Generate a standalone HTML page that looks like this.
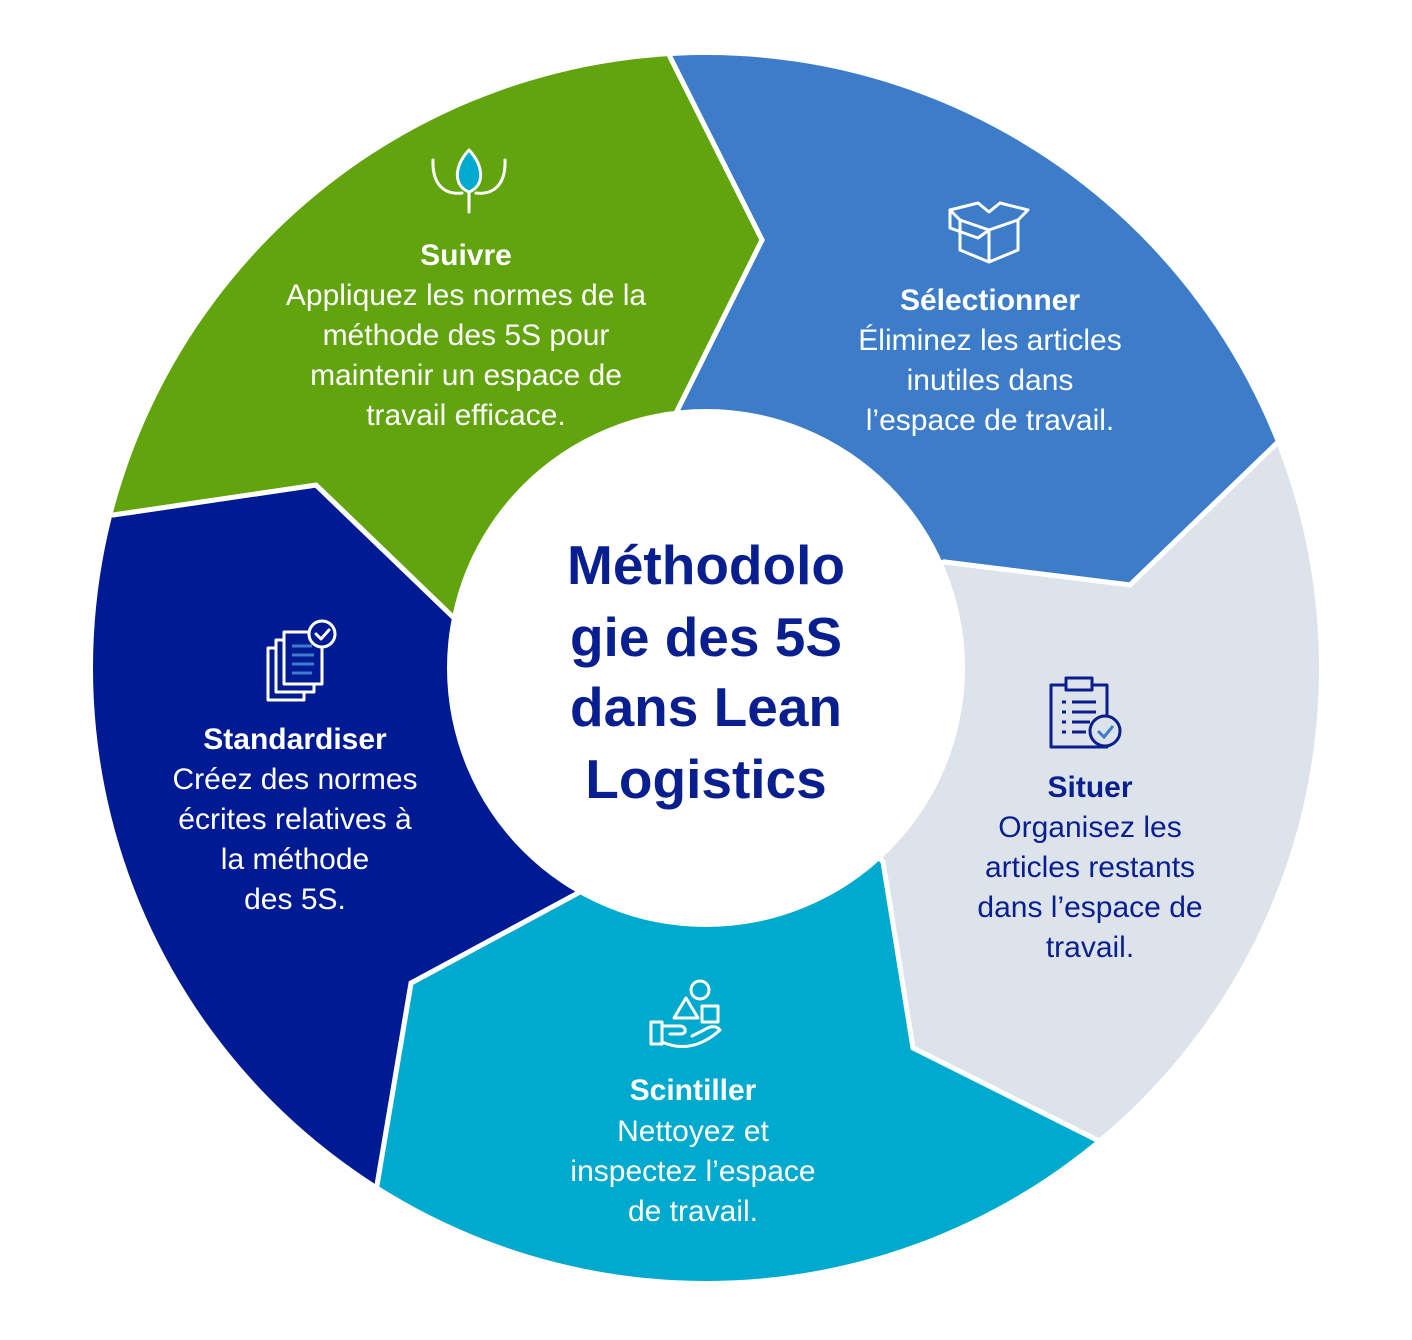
<!DOCTYPE html>
<html><head><meta charset="utf-8"><style>
html,body{margin:0;padding:0;background:#fff;width:1412px;height:1340px;overflow:hidden;}
svg{display:block;}
text{font-family:"Liberation Sans",sans-serif;}
</style></head><body>
<svg width="1412" height="1340" viewBox="0 0 1412 1340" xmlns="http://www.w3.org/2000/svg">
<defs><clipPath id="c"><circle cx="706" cy="668" r="613"/></clipPath></defs>
<g clip-path="url(#c)" stroke="#fff" stroke-width="5" stroke-linejoin="miter">
<polygon fill="#3d7cc9" points="706,668 676,413 762,240 670,57 647,-330 1251,-171 1636,302 1277,443 1130,585 944,562"/>
<polygon fill="#dde3ea" points="706,668 944,562 1130,585 1277,443 1636,302 1674,918 1343,1438 1097,1140 913,1048 883,862"/>
<polygon fill="#00a9ce" points="706,668 883,862 913,1048 1097,1140 1343,1438 767,1666 169,1511 377,1185 411,983 578,893"/>
<polygon fill="#001a94" points="706,668 578,893 411,983 377,1185 169,1511 -224,1035 -262,418 113,515 316,485 453,617"/>
<polygon fill="#62a40e" points="706,668 453,617 316,485 113,515 -262,418 70,-104 647,-330 670,57 762,240 676,413"/>
</g>
<circle cx="706" cy="668" r="259" fill="#fff"/>
<g fill="#0a1f8f" font-weight="bold" font-size="55" text-anchor="middle">
<text x="706" y="584">Méthodolo</text>
<text x="706" y="656">gie des 5S</text>
<text x="706" y="726">dans Lean</text>
<text x="706" y="798">Logistics</text>
</g>
<g fill="#fff" font-size="30" text-anchor="middle">
<text x="466" y="265" font-weight="bold">Suivre</text>
<text x="466" y="305">Appliquez les normes de la</text>
<text x="466" y="345">méthode des 5S pour</text>
<text x="466" y="385">maintenir un espace de</text>
<text x="466" y="425">travail efficace.</text>
<text x="990" y="310" font-weight="bold">Sélectionner</text>
<text x="990" y="350">Éliminez les articles</text>
<text x="990" y="390">inutiles dans</text>
<text x="990" y="430">l’espace de travail.</text>
<text x="693" y="1100" font-weight="bold">Scintiller</text>
<text x="693" y="1141">Nettoyez et</text>
<text x="693" y="1181">inspectez l’espace</text>
<text x="693" y="1221">de travail.</text>
<text x="295" y="749" font-weight="bold">Standardiser</text>
<text x="295" y="789">Créez des normes</text>
<text x="295" y="829">écrites relatives à</text>
<text x="295" y="869">la méthode</text>
<text x="295" y="909">des 5S.</text>
</g>
<g fill="#0a1f8f" font-size="30" text-anchor="middle">
<text x="1090" y="797" font-weight="bold">Situer</text>
<text x="1090" y="837">Organisez les</text>
<text x="1090" y="877">articles restants</text>
<text x="1090" y="917">dans l’espace de</text>
<text x="1090" y="957">travail.</text>
</g>
<g fill="none" stroke="#fff" stroke-width="3" stroke-linejoin="round" stroke-linecap="round">
<path d="M469 212 V190"/>
<path d="M469 150 C455 165 452 185 469 192 C486 185 483 165 469 150Z" fill="#00a9ce"/>
<path d="M433 160 C432 185 445 195 462 193"/>
<path d="M505 160 C506 185 493 195 476 193"/>
<path d="M960 220 L989 230 L1018 220 M960 220 V250 L989 262 L1018 250 V220"/>
<path d="M989 230 V262"/>
<path d="M960 220 L950 210 L978 203 L989 212 L1000 203 L1028 210 L1018 220"/>
<path d="M950 210 L950 228 L978 238 L989 230"/>
<circle cx="700" cy="990" r="9"/>
<path d="M686 998 L698 1018 H674 Z"/>
<rect x="702" y="1006" width="16" height="16"/>
<rect x="651" y="1022" width="11" height="22"/>
<path d="M662 1026 H680 C686 1026 688 1034 680 1034 H670 M662 1042 C680 1050 700 1048 720 1030 C716 1025 710 1026 704 1030 L692 1036"/>
<rect x="268" y="648" width="36" height="52"/>
<rect x="276" y="640" width="38" height="52" fill="#001a94"/>
<rect x="284" y="632" width="38" height="52" fill="#001a94"/>
<circle cx="322" cy="634" r="13" fill="#001a94"/>
<path d="M316 634 L321 639 L329 630"/>
</g>
<g stroke="#3d7cc9" stroke-width="3"><path d="M292 646 H312 M292 655 H314 M292 664 H314 M292 673 H312"/></g>
<g fill="none" stroke="#0a1f8f" stroke-width="3" stroke-linejoin="round">
<rect x="1051" y="685" width="56" height="62"/>
<rect x="1066" y="678" width="26" height="12" fill="#dde3ea"/>
<path d="M1062 702 H1066 M1072 702 H1096 M1062 712 H1066 M1072 712 H1096 M1062 722 H1066 M1072 722 H1090 M1062 732 H1066 M1072 732 H1086"/>
<circle cx="1105" cy="731" r="15" fill="#dde3ea"/>
</g>
<path d="M1098 731 L1104 737 L1113 726" fill="none" stroke="#3d7cc9" stroke-width="3"/>
</svg>
</body></html>
